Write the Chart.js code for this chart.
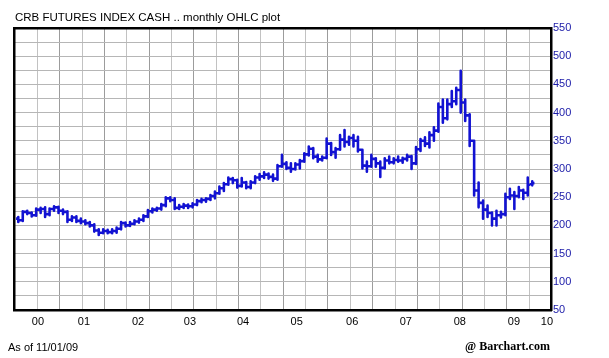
<!DOCTYPE html>
<html><head><meta charset="utf-8">
<script src="https://cdn.jsdelivr.net/npm/chart.js@4.4.1/dist/chart.umd.min.js"></script>
<style>
html,body{margin:0;padding:0;background:#fff;}
#wrap{position:relative;width:609px;height:358px;overflow:hidden;background:#fff;}
canvas{position:absolute;left:0;top:0;}
.t{position:absolute;font-family:"Liberation Sans",Arial,sans-serif;white-space:nowrap;line-height:1;color:#000;}
</style></head><body>
<div id="wrap">
<canvas id="c" width="609" height="358"></canvas>
<div class="t" style="left:15px;top:12px;font-size:11.5px;">CRB FUTURES INDEX CASH .. monthly OHLC plot</div>
<div class="t" style="left:8px;top:342px;font-size:11px;">As of 11/01/09</div>
<div class="t" style="left:465px;top:340px;font-size:12px;font-family:'Liberation Serif','Times New Roman',serif;font-weight:bold;">@ Barchart.com</div>
</div>
<script>
// Monthly OHLC, April 2000 (index 0) .. November 2009 (index 115, partial month)
const firstMonth = '2000-04';
const open  = [212,209,224,222,218,228,229,220,229,232, 226,224,210,214,208,207,204,200,191,187,
               190,188,190,194,204,200,203,207,210,216, 225,228,230,236,248,245,231,233,235,234,
               237,243,245,247,252,257,266,273,282,280, 270,276,268,276,285,287,290,286,283,305,
               309,302,300,308,314,326,336,322,317,320, 345,330,335,352,348,355,350,334,306,305,
               318,310,302,315,312,316,315,318,322,310, 335,350,345,360,368,410,390,415,420,440,
               418,395,350,262,240,228,222,212,218,220, 250,253,252,262,258,273];
const high  = [215,225,226,223,230,231,232,230,234,233, 228,225,216,216,212,209,206,202,193,193,
               192,193,196,206,205,206,209,212,218,227, 230,231,238,250,250,248,236,238,237,239,
               245,247,248,254,260,269,275,285,284,281, 284,277,278,287,291,294,292,290,307,325,
               312,310,310,316,328,340,337,325,322,354, 346,337,360,369,357,360,357,334,313,325,
               319,313,319,322,319,322,320,325,323,339, 353,356,365,374,416,423,423,438,444,474,
               423,397,350,276,244,235,223,226,224,256, 265,259,268,263,285,278];
const low   = [206,208,220,216,217,222,215,218,226,222, 220,206,208,206,204,202,198,189,183,186,
               186,186,187,193,198,199,202,205,208,215, 223,226,228,234,243,229,229,231,231,232,
               236,241,242,245,248,256,261,272,275,267, 269,266,266,275,281,284,283,279,281,304,
               300,295,299,301,313,324,319,313,315,319, 325,320,334,340,343,340,331,301,295,304,
               304,286,301,310,310,313,311,315,300,309, 332,341,338,350,366,382,388,410,415,400,
               385,341,253,232,212,215,200,200,214,218, 247,229,250,247,253,271];
const close = [209,224,222,218,228,229,220,229,232,226, 224,210,214,208,207,204,200,191,187,190,
               188,190,194,204,200,203,207,210,216,225, 228,230,236,248,245,231,233,235,234,237,
               243,245,247,252,257,266,273,282,280,270, 276,268,276,285,287,290,286,283,305,309,
               302,300,308,314,326,336,322,317,320,345, 330,335,352,348,355,350,334,306,305,318,
               310,302,315,312,316,315,318,322,310,335, 350,345,360,368,410,390,415,420,440,418,
               395,350,262,240,228,222,212,218,220,250, 253,252,262,258,272,275];
// x-axis year labels and where they sit (in month-index units)
const yearLabels = ['00','01','02','03','04','05','06','07','08','09','10'];
const yearTickAt = [4.4,14.7,26.8,38.4,50.3,62.3,74.7,86.7,98.8,110.9,118.3];
// y-axis labels
const yLabels = [50,100,150,200,250,300,350,400,450,500,550];

const XMIN = -0.96, XMAX = 119.2, YMIN = 50, YMAX = 550;
const FONT = "'Liberation Sans', Arial, sans-serif";

const pts = [];
for (let k = 0; k < open.length; k++) {
  pts.push({x:k-0.5,y:open[k]},{x:k,y:open[k]},{x:k,y:high[k]},{x:k,y:low[k]},
           {x:k,y:close[k]},{x:k+0.5,y:close[k]},{x:k+0.5,y:null});
}

const gridX = [];
for (let v = 4.3; v < XMAX - 0.5; v += 5) gridX.push(+v.toFixed(2));
const gridY = [];
yLabels.forEach((v,i) => { gridY.push(v); if (i < yLabels.length-1) gridY.push(v+25); });

new Chart(document.getElementById('c'), {
  type: 'line',
  data: { datasets: [{
    label: 'CRB Futures Index Cash',
    data: pts,
    xAxisID: 'x', yAxisID: 'y',
    borderColor: '#1212d2',
    borderWidth: 2.6,
    pointRadius: 0,
    tension: 0,
    spanGaps: false,
    borderJoinStyle: 'round',
    borderCapStyle: 'butt'
  }]},
  options: {
    responsive: false,
    animation: false,
    devicePixelRatio: 1,
    layout: { padding: { left: 14, top: 28, right: 0, bottom: 20 } },
    plugins: { legend: { display: false }, tooltip: { enabled: false }, title: { display: false } },
    scales: {
      x: {
        type: 'linear', position: 'bottom', min: XMIN, max: XMAX,
        afterBuildTicks: s => { s.ticks = yearTickAt.map(v => ({ value: v })); },
        afterFit: s => { s.height = 28; },
        ticks: { autoSkip: false, maxRotation: 0, minRotation: 0, padding: 5,
                 color: '#000', font: { family: FONT, size: 11 },
                 callback: (v, i) => yearLabels[i] },
        grid: { display: false, drawTicks: false },
        border: { display: true, color: '#000', width: 2.5 }
      },
      xg: {
        type: 'linear', axis: 'x', position: 'bottom', min: XMIN, max: XMAX,
        afterBuildTicks: s => { s.ticks = gridX.map(v => ({ value: v })); },
        afterFit: s => { s.height = 0; },
        ticks: { display: false },
        grid: { drawTicks: false, lineWidth: 1,
                color: c => (Math.round((c.tick.value - 4.3) / 5) % 2 === 1) ? '#9c9c9c' : '#c2c2c2' },
        border: { display: false }
      },
      xt: {
        type: 'linear', axis: 'x', position: 'top', min: XMIN, max: XMAX,
        afterFit: s => { s.height = 0; },
        ticks: { display: false }, grid: { display: false, drawTicks: false },
        border: { display: true, color: '#000', width: 2.5 }
      },
      y: {
        type: 'linear', position: 'right', min: YMIN, max: YMAX,
        afterBuildTicks: s => { s.ticks = gridY.map(v => ({ value: v })); },
        afterFit: s => { s.width = 58; },
        ticks: { autoSkip: false, padding: 2, color: '#1a1aa8', font: { family: FONT, size: 11 },
                 callback: v => yLabels.includes(v) ? String(v) : '' },
        grid: { drawTicks: false, lineWidth: 1, color: '#b6b6b6' },
        border: { display: true, color: '#000', width: 2.5 }
      },
      yl: {
        type: 'linear', axis: 'y', position: 'left', min: YMIN, max: YMAX,
        afterFit: s => { s.width = 0; },
        ticks: { display: false }, grid: { display: false, drawTicks: false },
        border: { display: true, color: '#000', width: 2.5 }
      }
    }
  }
});
</script>
</body></html>
